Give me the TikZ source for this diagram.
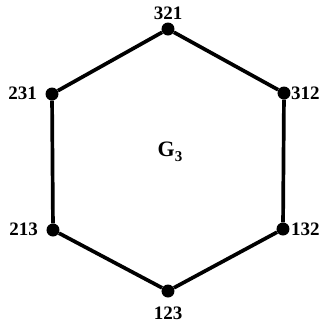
\documentclass[tikz,border=0pt]{standalone}
\usepackage{fontspec}
\setmainfont{Liberation Serif}
\begin{document}
\begin{tikzpicture}[x=1pt,y=-1pt,
  every node/.style={font=\fontsize{19}{19}\selectfont\bfseries},
  vert/.style={circle,fill=black,inner sep=0pt,minimum size=13pt},
  edge/.style={line width=3.7pt}]
\useasboundingbox (0,0) rectangle (325,325);
% vertices
\node[vert] (v321) at (168,29) {};
\node[vert] (v312) at (284,93) {};
\node[vert] (v132) at (283,229) {};
\node[vert] (v123) at (168,291) {};
\node[vert] (v213) at (53,230) {};
\node[vert] (v231) at (52,94) {};
% edges
\draw[edge] (v321) -- (v312);
\draw[edge] (v312) -- (v132);
\draw[edge] (v132) -- (v123);
\draw[edge] (v123) -- (v213);
\draw[edge] (v213) -- (v231);
\draw[edge] (v231) -- (v321);
% labels
\node (l321) at (168,13) {321};
\node[anchor=west,inner sep=1pt] (l312) at (290,93) {312};
\node[anchor=west,inner sep=1pt] (l132) at (290,229) {132};
\node (l123) at (168,313) {123};
\node[anchor=east,inner sep=1pt] (l213) at (39,229) {213};
\node[anchor=east,inner sep=1pt] (l231) at (38,93) {231};
\node[font=\fontsize{22}{22}\selectfont\bfseries] (g3) at (170,152) {G\raisebox{-5pt}{\fontsize{15}{15}\selectfont 3}};
\end{tikzpicture}
\end{document}
